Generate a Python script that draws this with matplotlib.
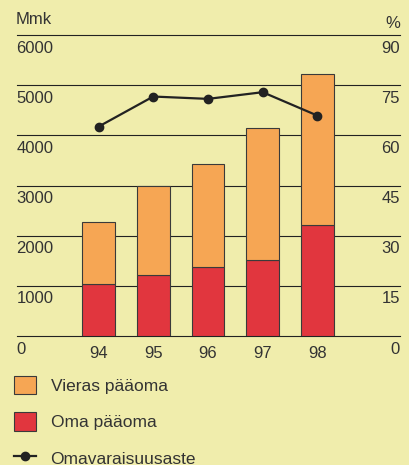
import matplotlib
matplotlib.use("Agg")
import matplotlib.pyplot as plt
import numpy as np
from matplotlib.lines import Line2D
from matplotlib.patches import Patch

years = ["94", "95", "96", "97", "98"]
oma_paaoma = [1040, 1215, 1375, 1515, 2210]
vieras_paaoma = [1230, 1775, 2055, 2630, 3010]
omavaraisuusaste = [62.6, 71.6, 70.9, 72.9, 65.9]
left_ticks = [0, 1000, 2000, 3000, 4000, 5000, 6000]
right_ticks = [0, 15, 30, 45, 60, 75, 90]

BG = "#F0EDAC"
ORANGE = "#F6A654"
RED = "#E1363E"
TXT = "#333333"
DARK = "#222222"
FS = 12

plt.rcParams["font.family"] = ["Liberation Sans", "DejaVu Sans"]
plt.rcParams["font.size"] = FS

fig = plt.figure(figsize=(4.1, 4.65), dpi=100, facecolor=BG)
ax = fig.add_axes([17 / 410, 1 - 336 / 465, 383 / 410, 301 / 465])
ax.set_facecolor(BG)
for s in ax.spines.values():
    s.set_visible(False)

x = np.arange(len(years))
ax.set_xlim(-1.49, 5.51)
ax.set_ylim(0, 6000)

# gridlines behind the bars
for t in left_ticks:
    ax.axhline(t, color=DARK, lw=0.8, zorder=0, clip_on=False)

ax.bar(x, oma_paaoma, width=0.6, color=RED, edgecolor="#3a3a3a", lw=0.8, zorder=2)
ax.bar(x, vieras_paaoma, width=0.6, bottom=oma_paaoma, color=ORANGE,
       edgecolor="#3a3a3a", lw=0.8, zorder=2)

ax.set_xticks([])
ax.set_yticks([])

# value labels sit just below each gridline
for t in left_ticks:
    ax.annotate(str(t), xy=(0, t), xycoords=("axes fraction", "data"),
                xytext=(-0.5, -4), textcoords="offset points",
                ha="left", va="top", color=TXT, fontsize=FS)
for t in right_ticks:
    ax.annotate(str(t), xy=(1, t / 90 * 6000), xycoords=("axes fraction", "data"),
                xytext=(0, -4), textcoords="offset points",
                ha="right", va="top", color=TXT, fontsize=FS)
for xi, yr in zip(x, years):
    ax.annotate(yr, xy=(xi, 0), xycoords="data", xytext=(0, -7),
                textcoords="offset points", ha="center", va="top",
                color=TXT, fontsize=FS)

ax.annotate("Mmk", xy=(0, 1), xycoords="axes fraction", xytext=(-1, 6),
            textcoords="offset points", ha="left", va="bottom", color=TXT, fontsize=FS)
ax.annotate("%", xy=(1, 1), xycoords="axes fraction", xytext=(0, 3),
            textcoords="offset points", ha="right", va="bottom", color=TXT, fontsize=FS)

ax2 = ax.twinx()
ax2.set_ylim(0, 90)
ax2.patch.set_visible(False)
for s in ax2.spines.values():
    s.set_visible(False)
ax2.set_yticks([])
ax2.plot(x, omavaraisuusaste, color=DARK, lw=1.6, marker="o", ms=6,
         markerfacecolor=DARK, markeredgecolor=DARK, zorder=5)

handles = [
    Patch(facecolor=ORANGE, edgecolor="#3a3a3a", lw=0.8),
    Patch(facecolor=RED, edgecolor="#3a3a3a", lw=0.8),
    Line2D([], [], color=DARK, lw=1.6, marker="o", ms=6),
]
labels = ["Vieras pääoma", "Oma pääoma", "Omavaraisuusaste"]
LFS = 12.5
fig.legend(handles, labels, loc="upper left", bbox_to_anchor=(12 / 410, 1 - 374 / 465),
           frameon=False, handlelength=1.27, handleheight=1.27, handletextpad=0.85,
           labelspacing=1.03, borderaxespad=0, borderpad=0.1, labelcolor=TXT,
           fontsize=LFS)

fig.savefig("out.png", dpi=100, facecolor=BG)
